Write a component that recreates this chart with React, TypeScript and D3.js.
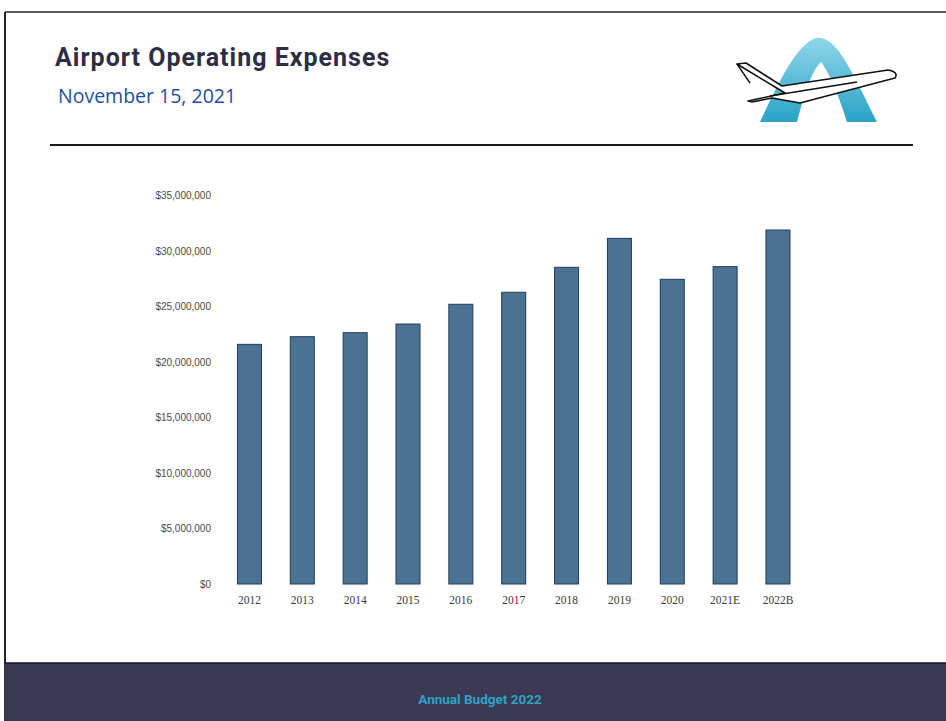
import React from "react";
import * as d3 from "d3";

const categories = ["2012", "2013", "2014", "2015", "2016", "2017", "2018", "2019", "2020", "2021E", "2022B"];
const expenses = [21590000, 22280000, 22640000, 23420000, 25200000, 26280000, 28530000, 31140000, 27450000, 28590000, 31890000];
const yTicks = [0, 5000000, 10000000, 15000000, 20000000, 25000000, 30000000, 35000000];

const W = 946;
const H = 721;

export default function App() {
  const x = d3
    .scaleBand<string>()
    .domain(categories)
    .range([223, 804.4])
    .paddingInner(0.546)
    .paddingOuter(0.273);
  const y = d3.scaleLinear().domain([0, 35000000]).range([584, 195.5]);
  const fmt = d3.format("$,.0f");

  return (
    <svg
      width={W}
      height={H}
      style={{ position: "absolute", left: 0, top: 0, background: "#fff" }}
    >
      <defs>
        <linearGradient id="aGrad" x1="0" y1="0" x2="0" y2="1">
          <stop offset="0" stopColor="#8fd6ea" />
          <stop offset="1" stopColor="#2aa3c6" />
        </linearGradient>
      </defs>
      <rect x={0} y={0} width={W} height={H} fill="#fff" />
      {/* frame */}
      <line x1={5} y1={12} x2={W} y2={12} stroke="#222" strokeWidth={1.5} />
      <line x1={5} y1={12} x2={5} y2={H} stroke="#222" strokeWidth={2} />

      {/* title */}
      <text
        x={55}
        y={66}
        fontFamily="Roboto, 'DejaVu Sans', sans-serif"
        fontWeight={700}
        fontSize={25}
        letterSpacing={1}
        fill="#2e2d45"
      >
        Airport Operating Expenses
      </text>
      <text
        x={58}
        y={103}
        fontFamily="'Open Sans', 'Noto Sans', sans-serif"
        fontSize={19.5}
        fill="#1f4f9c"
      >
        November 15, 2021
      </text>
      <line x1={50} y1={145} x2={913} y2={145} stroke="#1a1a1a" strokeWidth={2} />

      {/* logo */}
      <path
        d="M760,122 C776,88 796,44 816,38 C836,34 852,72 877,122 L847,122 C839,96 829,72 821,62 C812,70 805,92 797,122 Z"
        fill="url(#aGrad)"
      />
      <path
        d="M737,64 L746,63 L782,86 L888,70 Q899,72 895,78 L800,103 L772,98 L752,102 L748,101 L785,93 Z"
        fill="#fff"
        stroke="#111"
        strokeWidth={1.6}
        strokeLinejoin="round"
      />
      <line x1={737} y1={64} x2={750} y2={83} stroke="#111" strokeWidth={1.4} />
      <line x1={770} y1={96} x2={857} y2={82} stroke="#111" strokeWidth={1.6} />

      {/* y axis labels */}
      {yTicks.map((t) => (
        <text
          key={t}
          x={211}
          y={y(t)}
          dy="0.35em"
          textAnchor="end"
          fontFamily="'Liberation Sans', Arial, sans-serif"
          fontSize={10}
          fill="#4a4a4a"
        >
          {fmt(t)}
        </text>
      ))}

      {/* bars */}
      {categories.map((c, i) => (
        <rect
          key={c}
          x={x(c)}
          y={y(expenses[i])}
          width={x.bandwidth()}
          height={y(0) - y(expenses[i])}
          fill="#4b7391"
          stroke="#1f3a5e"
          strokeWidth={1}
        />
      ))}

      {/* x axis labels */}
      {categories.map((c) => (
        <text
          key={c}
          x={(x(c) as number) + x.bandwidth() / 2}
          y={604}
          textAnchor="middle"
          fontFamily="'Liberation Serif', 'DejaVu Serif', serif"
          fontSize={11.5}
          fill="#3a3a3a"
        >
          {c}
        </text>
      ))}

      {/* footer */}
      <rect x={4} y={663} width={W - 4} height={H - 663} fill="#3a3853" />
      <line x1={4} y1={663} x2={W} y2={663} stroke="#15152a" strokeWidth={1.5} />
      <text
        x={480}
        y={704}
        textAnchor="middle"
        fontFamily="Roboto, 'DejaVu Sans', sans-serif"
        fontWeight={700}
        fontSize={13.5}
        fill="#2fa2c4"
      >
        Annual Budget 2022
      </text>
    </svg>
  );
}
